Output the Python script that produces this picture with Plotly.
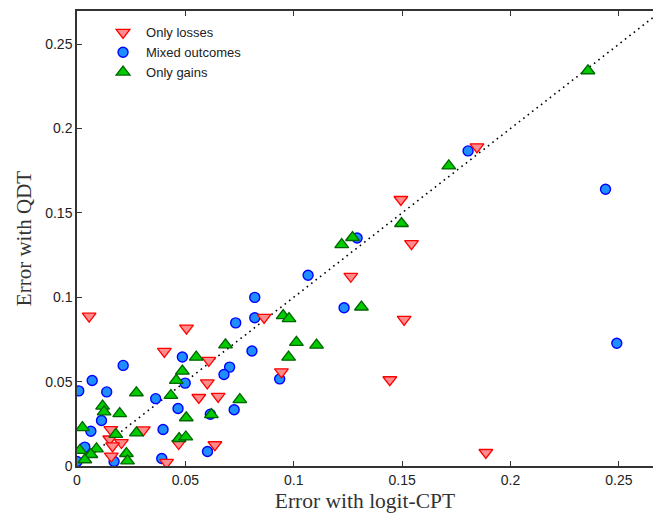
import plotly.graph_objects as go

# Only losses
loss_x = [0.0056, 0.0505, 0.0403, 0.0863, 0.0608, 0.0601, 0.0562, 0.0651, 0.0943, 0.0156,
          0.0306, 0.0151, 0.0205, 0.0164, 0.0158, 0.0413, 0.0469, 0.0636, 0.1494, 0.1543,
          0.1263, 0.1509, 0.1443, 0.1845, 0.1886]
loss_y = [0.0888, 0.0817, 0.0679, 0.0881, 0.0626, 0.0492, 0.0406, 0.0412, 0.0558, 0.0216,
          0.0214, 0.0160, 0.0139, 0.0119, 0.0059, 0.0021, 0.0133, 0.0126, 0.1579, 0.1318,
          0.1124, 0.0869, 0.0511, 0.1891, 0.0080]

# Mixed outcomes
mixed_x = [0.0008, 0.0070, 0.0213, 0.0137, 0.0486, 0.0499, 0.0363, 0.0466, 0.0113, 0.0064,
           0.0397, 0.0036, 0.0000, 0.0171, 0.0391, 0.0615, 0.0725, 0.0602, 0.0820, 0.0732,
           0.0820, 0.0807, 0.0704, 0.0678, 0.0935, 0.1804, 0.1292, 0.1066, 0.1232, 0.2438,
           0.2490]
mixed_y = [0.0445, 0.0507, 0.0596, 0.0439, 0.0646, 0.0491, 0.0399, 0.0341, 0.0270, 0.0206,
           0.0216, 0.0112, 0.0027, 0.0027, 0.0044, 0.0307, 0.0333, 0.0086, 0.0999, 0.0848,
           0.0878, 0.0681, 0.0586, 0.0542, 0.0516, 0.1867, 0.1351, 0.1130, 0.0938, 0.1640,
           0.0727]

# Only gains
gain_x = [0.0550, 0.0486, 0.0458, 0.0274, 0.0433, 0.0118, 0.0125, 0.0197, 0.0504, 0.0025,
          0.0179, 0.0274, 0.0471, 0.0502, 0.0013, 0.0090, 0.0064, 0.0036, 0.0228, 0.0233,
          0.0685, 0.0951, 0.0978, 0.1012, 0.1105, 0.0976, 0.0751, 0.0620, 0.1715, 0.1497,
          0.1271, 0.1221, 0.1312, 0.2357]
gain_y = [0.0645, 0.0562, 0.0507, 0.0434, 0.0418, 0.0355, 0.0321, 0.0310, 0.0286, 0.0227,
          0.0187, 0.0196, 0.0163, 0.0172, 0.0092, 0.0102, 0.0068, 0.0037, 0.0074, 0.0030,
          0.0718, 0.0891, 0.0873, 0.0733, 0.0716, 0.0645, 0.0393, 0.0304, 0.1778, 0.1437,
          0.1354, 0.1312, 0.0942, 0.2342]

diag = [0.0, 0.27]
tick_vals = [0, 0.05, 0.1, 0.15, 0.2, 0.25]
tick_text = ["0", "0.05", "0.1", "0.15", "0.2", "0.25"]

fig = go.Figure()

fig.add_trace(go.Scatter(x=diag, y=diag, mode="lines", showlegend=False,
                         line=dict(color="black", width=1.6, dash="1.6px,4px"),
                         hoverinfo="skip"))

fig.add_trace(go.Scatter(x=mixed_x, y=mixed_y, mode="markers", name="Mixed outcomes",
                         legendrank=2,
                         marker=dict(symbol="circle", size=10, color="#1f8fff",
                                     line=dict(color="#0000ff", width=1.4))))
fig.add_trace(go.Scatter(x=loss_x, y=loss_y, mode="markers", name="Only losses",
                         legendrank=1,
                         marker=dict(symbol="triangle-down", size=12, color="#ff8c8c",
                                     line=dict(color="#ff0000", width=1.3))))
fig.add_trace(go.Scatter(x=gain_x, y=gain_y, mode="markers", name="Only gains",
                         legendrank=3,
                         marker=dict(symbol="triangle-up", size=12, color="#00cc00",
                                     line=dict(color="#006400", width=1.3))))

axis_common = dict(
    showgrid=False, zeroline=False, showline=True, linecolor="#333333", linewidth=1.5,
    ticks="inside", ticklen=5, tickwidth=1.2, tickcolor="#333333",
    tickvals=tick_vals, ticktext=tick_text,
    tickfont=dict(family="Liberation Sans, Arial, sans-serif", size=14, color="#222222"),
)

fig.update_layout(
    width=653, height=513,
    margin=dict(l=77, r=0, t=11, b=47),
    paper_bgcolor="white", plot_bgcolor="white",
    xaxis=dict(range=[0, 0.2657], mirror="ticks",
               title=dict(text="Error with logit-CPT", standoff=6,
                          font=dict(family="Liberation Serif, Times New Roman, serif",
                                    size=21.5, color="#333333")),
               **axis_common),
    yaxis=dict(range=[0, 0.2696], mirror=False,
               title=dict(text="Error with QDT", standoff=8,
                          font=dict(family="Liberation Serif, Times New Roman, serif",
                                    size=21, color="#333333")),
               **axis_common),
    legend=dict(x=0.040, y=0.986, xanchor="left", yanchor="top",
                bgcolor="rgba(0,0,0,0)", borderwidth=0,
                font=dict(family="Liberation Sans, Arial, sans-serif", size=13, color="#222222"),
                itemwidth=36, tracegroupgap=0),
    showlegend=True,
)

fig.write_html("out.html")
